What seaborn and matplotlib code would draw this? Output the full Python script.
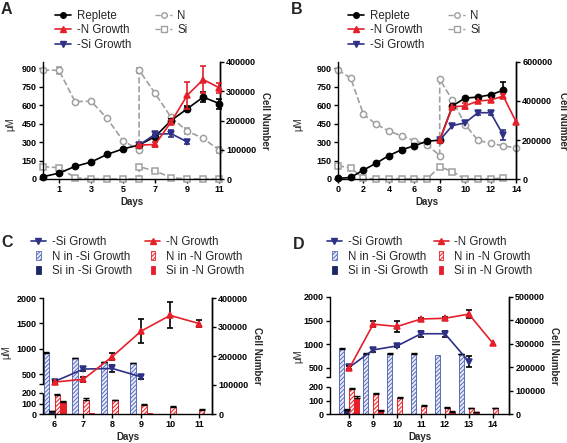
import numpy as np
import matplotlib
matplotlib.use("Agg")
import matplotlib.pyplot as plt
import seaborn as sns
from matplotlib.patches import Rectangle, Patch
from matplotlib.lines import Line2D
from matplotlib.legend_handler import HandlerPatch

sns.set_theme(style="ticks")
plt.rcParams["font.family"] = ["Liberation Sans", "DejaVu Sans"]
plt.rcParams["hatch.linewidth"] = 0.7
plt.rcParams["axes.edgecolor"] = "black"
plt.rcParams["axes.linewidth"] = 1.0
plt.rcParams["xtick.color"] = "black"
plt.rcParams["ytick.color"] = "black"
plt.rcParams["xtick.major.size"] = 3
plt.rcParams["ytick.major.size"] = 3
plt.rcParams["xtick.major.width"] = 1.0
plt.rcParams["ytick.major.width"] = 1.0

RED = "#e5202b"
NAVY = "#2e3185"
GRAY = "#a0a0a0"
HBLUE = "#5a6cb8"
HFACE = "#e8ecf8"
RFACE = "#fff0f0"
DARKNAVY = "#1c2766"

# ---------------- Panel A data ----------------
A_days = [0, 1, 2, 3, 4, 5, 6, 7, 8, 9, 10, 11]
A_replete = [8000, 20000, 43000, 58000, 84000, 103000, 116000, 145000, 200000, 240000, 280000, 258000]
A_replete_err = [0, 0, 0, 0, 0, 0, 0, 5000, 6000, 9000, 18000, 17000]
A_negN_days = [6, 7, 8, 9, 10, 11]
A_negN = [116000, 118000, 195000, 286000, 340000, 312000]
A_negN_err = [0, 8000, 6000, 45000, 45000, 17000]
A_negSi_days = [6, 7, 8, 9]
A_negSi = [116000, 153000, 155000, 127000]
A_negSi_err = [0, 8000, 12000, 7000]
A_N_days = [0, 1, 2, 3, 4, 5, 6, 6, 7, 8, 9, 10, 11]
A_N = [886, 882, 628, 632, 492, 310, 236, 884, 695, 500, 389, 330, 235]
A_N_err = [0, 30, 0, 0, 0, 0, 0, 20, 0, 0, 25, 0, 25]
A_Si_days = [0, 1, 2, 3, 4, 5, 6, 6, 7, 8, 9, 10, 11]
A_Si = [100, 92, 11, 0, 0, 0, 0, 100, 65, 11, 0, 0, 0]

# ---------------- Panel B data ----------------
B_days = [0, 1, 2, 3, 4, 5, 6, 7, 8, 9, 10, 11, 12, 13]
B_replete = [3000, 8000, 46000, 81000, 120000, 150000, 170000, 194000, 199000, 375000, 415000, 420000, 432000, 455000]
B_replete_err = [0, 0, 0, 0, 0, 10000, 8000, 0, 0, 0, 0, 0, 0, 40000]
B_negN_days = [8, 9, 10, 11, 12, 13, 14]
B_negN = [199000, 370000, 375000, 400000, 405000, 425000, 294000]
B_negN_err = [0, 0, 15000, 0, 0, 12000, 0]
B_negSi_days = [8, 9, 10, 11, 12, 13]
B_negSi = [199000, 274000, 288000, 340000, 340000, 225000]
B_negSi_err = [0, 0, 0, 10000, 10000, 25000]
B_N_days = [0, 1, 2, 3, 4, 5, 6, 7, 8, 8, 9, 10, 11, 12, 13, 14]
B_N = [886, 818, 526, 444, 390, 350, 312, 280, 190, 810, 640, 442, 314, 290, 270, 252]
B_Si_days = [0, 1, 2, 3, 4, 5, 6, 7, 8, 9, 10, 11, 12, 13]
B_Si = [108, 90, 5, 0, 0, 0, 0, 0, 100, 60, 0, 0, 0, 8]

# ---------------- Panel C data ----------------
C_days = [6, 7, 8, 9, 10, 11]
C_N_in_negSi = [920, 810, 730, 710, np.nan, np.nan]
C_Si_in_negSi = [25, np.nan, np.nan, np.nan, np.nan, np.nan]
C_N_in_negN = [185, 135, 130, 88, 70, 40]
C_Si_in_negN = [115, 12, np.nan, 5, np.nan, np.nan]
C_N_in_negSi_err = [15, 12, 15, 15, 0, 0]
C_Si_in_negSi_err = [8, 0, 0, 0, 0, 0]
C_N_in_negN_err = [6, 20, 5, 4, 10, 5]
C_Si_in_negN_err = [12, 0, 0, 0, 0, 0]
C_negSi_days = [6, 7, 8, 9]
C_negSi = [112000, 155000, 157000, 128000]
C_negSi_err = [4000, 8000, 12000, 8000]
C_negN_days = [6, 7, 8, 9, 10, 11]
C_negN = [110000, 120000, 198000, 286000, 340000, 312000]
C_negN_err = [4000, 8000, 12000, 40000, 45000, 13000]

# ---------------- Panel D data ----------------
D_days = [8, 9, 10, 11, 12, 13, 14]
D_N_in_negSi = [905, 800, 800, 800, 775, 785, np.nan]
D_Si_in_negSi = [30, np.nan, np.nan, np.nan, np.nan, np.nan, np.nan]
D_N_in_negN = [183, 150, 120, 60, 48, 43, 41]
D_Si_in_negN = [120, 20, np.nan, np.nan, 15, 12, np.nan]
D_N_in_negSi_err = [8, 8, 8, 10, 0, 10, 0]
D_Si_in_negSi_err = [5, 0, 0, 0, 0, 0, 0]
D_N_in_negN_err = [6, 5, 5, 3, 4, 3, 3]
D_Si_in_negN_err = [12, 6, 0, 0, 4, 3, 0]
D_negSi_days = [8, 9, 10, 11, 12, 13]
D_negSi = [200000, 274000, 291000, 343000, 343000, 224000]
D_negSi_err = [8000, 10000, 5000, 12000, 12000, 25000]
D_negN_days = [8, 9, 10, 11, 12, 13, 14]
D_negN = [196000, 384000, 374000, 406000, 409000, 427000, 303000]
D_negN_err = [10000, 12000, 22000, 5000, 5000, 17000, 0]

W, H = 567, 443
fig = plt.figure(figsize=(W / 100, H / 100), dpi=100)


def add_ax(left, top, right, bottom):
    return fig.add_axes([left / W, 1 - bottom / H, (right - left) / W, (bottom - top) / H])


def bold_ticks(ax, size=6.5):
    ax.tick_params(labelsize=size, pad=1.5)
    for lbl in ax.get_xticklabels() + ax.get_yticklabels():
        lbl.set_fontweight("bold")


def line(ax, x, y, color, marker, ls="-", open_marker=False, ms=4.5, err=None, ecolor=None, z=3):
    sns.lineplot(x=x, y=y, ax=ax, color=color, marker=marker, linestyle=ls,
                 markersize=ms, markerfacecolor="white" if open_marker else color,
                 markeredgecolor=color, markeredgewidth=1.1, linewidth=1.2,
                 sort=False, estimator=None, errorbar=None, legend=False,
                 clip_on=False, zorder=z)
    if err is not None:
        xs = [a for a, e in zip(x, err) if e > 0]
        ys = [b for b, e in zip(y, err) if e > 0]
        es = [e for e in err if e > 0]
        if xs:
            ax.errorbar(xs, ys, yerr=es, fmt="none", ecolor=ecolor or color,
                        elinewidth=1.2, capsize=2.5, capthick=1.2, zorder=z - 0.1, clip_on=False)


def bars(ax, days, vals, errs, offset, width, face, edge, hatch=None):
    xs, hs, es = [], [], []
    for d, v, e in zip(days, vals, errs):
        if not np.isnan(v):
            xs.append(d + offset)
            hs.append(v)
            es.append(e)
    ax.bar(xs, hs, width=width, color=face, edgecolor=edge, hatch=hatch, linewidth=0.7, zorder=2)
    ex = [a for a, e in zip(xs, es) if e > 0]
    ey = [b for b, e in zip(hs, es) if e > 0]
    ee = [e for e in es if e > 0]
    if ex:
        ax.errorbar(ex, ey, yerr=[[0] * len(ee), ee], fmt="none", ecolor="black",
                    elinewidth=1.0, capsize=2.2, capthick=1.0, zorder=2.5)


def pw_scale(ax, xp, fp):
    xp = np.asarray(xp, float)
    fp = np.asarray(fp, float)

    def mk(a, b):
        s0 = (b[1] - b[0]) / (a[1] - a[0])
        s1 = (b[-1] - b[-2]) / (a[-1] - a[-2])

        def f(v):
            v = np.asarray(v, float)
            out = np.interp(v, a, b)
            out = np.where(v < a[0], b[0] + (v - a[0]) * s0, out)
            out = np.where(v > a[-1], b[-1] + (v - a[-1]) * s1, out)
            return out
        return f
    ax.set_yscale("function", functions=(mk(xp, fp), mk(fp, xp)))


class NarrowPatch(HandlerPatch):
    def create_artists(self, legend, orig_handle, xdescent, ydescent, width, height, fontsize, trans):
        w = height * 0.5
        h = height * 1.05
        x = -xdescent + (width - w) / 2
        y = -ydescent + (height - h) / 2
        p = Rectangle((x, y), w, h, facecolor=orig_handle.get_facecolor(),
                      edgecolor=orig_handle.get_edgecolor(), hatch=orig_handle.get_hatch(), lw=0.6)
        p.set_transform(trans)
        return [p]


def style_axes(ax, ax2):
    ax.spines["top"].set_visible(False)
    ax2.spines["top"].set_visible(False)
    ax2.spines["left"].set_visible(False)
    ax2.spines["bottom"].set_visible(False)
    ax.set_facecolor("none")
    ax2.set_facecolor("none")


def labels(ax, ax2, xl, yl, xr, yc=0.5):
    ax.set_xlabel("Days", fontsize=7, fontweight="bold")
    ax.xaxis.set_label_coords(0.5, xl)
    ax.set_ylabel("μM", fontsize=7)
    ax.yaxis.set_label_coords(yl, yc)
    ax2.set_ylabel("Cell Number", fontsize=7, fontweight="bold", rotation=270, va="center")
    ax2.yaxis.set_label_coords(xr, 0.5)


def panel_letter(x, y, s):
    fig.text(x / W, 1 - y / H, s, fontsize=11.5, fontweight="bold", ha="left", va="top")


# ---------------- Panel A ----------------
axA = add_ax(43, 62, 220, 179)
axA2 = axA.twinx()
line(axA, A_N_days, A_N, GRAY, "o", ls="--", open_marker=True, err=A_N_err, z=2)
line(axA, A_Si_days, A_Si, GRAY, "s", ls="--", open_marker=True, ms=4.3, z=2)
line(axA2, A_days, A_replete, "black", "o", err=A_replete_err, z=4)
line(axA2, A_negSi_days, A_negSi, NAVY, "v", err=A_negSi_err, z=5)
line(axA2, A_negN_days, A_negN, RED, "^", err=A_negN_err, z=6)
axA.set_xlim(0, 11.05)
axA.set_ylim(0, 950)
axA2.set_ylim(0, 400000)
axA.set_xticks([1, 3, 5, 7, 9, 11])
axA.set_yticks([0, 150, 300, 450, 600, 750, 900])
axA2.set_yticks([0, 100000, 200000, 300000, 400000])
style_axes(axA, axA2)
bold_ticks(axA)
bold_ticks(axA2)
labels(axA, axA2, -0.15, -0.158, 1.255, 0.47)
panel_letter(1, 2, "A")

# ---------------- Panel B ----------------
axB = add_ax(338, 62, 516, 179)
axB2 = axB.twinx()
line(axB, B_N_days, B_N, GRAY, "o", ls="--", open_marker=True, z=2)
line(axB, B_Si_days, B_Si, GRAY, "s", ls="--", open_marker=True, ms=4.3, z=2)
line(axB2, B_days, B_replete, "black", "o", err=B_replete_err, z=4)
line(axB2, B_negSi_days, B_negSi, NAVY, "v", err=B_negSi_err, z=5)
line(axB2, B_negN_days, B_negN, RED, "^", err=B_negN_err, z=6)
axB.set_xlim(0, 14)
axB.set_ylim(0, 950)
axB2.set_ylim(0, 600000)
axB.set_xticks([0, 2, 4, 6, 8, 10, 12, 14])
axB.set_yticks([0, 150, 300, 450, 600, 750, 900])
axB2.set_yticks([0, 200000, 400000, 600000])
style_axes(axB, axB2)
bold_ticks(axB)
bold_ticks(axB2)
labels(axB, axB2, -0.15, -0.197, 1.262, 0.47)
panel_letter(291, 2, "B")

# legends A & B
top_handles = [
    Line2D([], [], color="black", marker="o", ms=4, lw=1.2),
    Line2D([], [], color=RED, marker="^", ms=4, lw=1.2),
    Line2D([], [], color=NAVY, marker="v", ms=4, lw=1.2),
    Line2D([], [], color=GRAY, marker="o", ms=4, lw=1.0, ls="--", mfc="white"),
    Line2D([], [], color=GRAY, marker="s", ms=4, lw=1.0, ls="--", mfc="white"),
]
top_labels = ["Replete", "-N Growth", "-Si Growth", "N", "Si"]
for lx in (55, 348):
    fig.legend(top_handles, top_labels, ncol=2, loc="upper left",
               bbox_to_anchor=(lx / W, 1 - 10 / H), frameon=False, fontsize=8.3,
               handlelength=1.4, handletextpad=0.5, columnspacing=2.1,
               labelspacing=0.2, borderpad=0, borderaxespad=0)

# ---------------- Panel C & D ----------------
LOW_SEG = [0, 200]
HIGH_SEG = [300, 2000]
CD_TICKS = [0, 100, 200, 300, 500, 1000, 1500, 2000]
CD_TICKLABELS = ["0", "100", "200", "", "500", "1000", "1500", "2000"]


def bar_panel(box, days, data, errs, lines_, bw, xlim, ymap, rmax, rticks):
    ax = add_ax(*box)
    pw_scale(ax, [0, 200, 300, 2000], ymap)
    ax2 = ax.twinx()
    specs = [(HFACE, HBLUE, "////////"), (DARKNAVY, DARKNAVY, None),
             (RFACE, RED, "////////"), (RED, RED, None)]
    offs = [-1.5, -0.5, 0.5, 1.5]
    for vals, ee, (fc, ec, ht), o in zip(data, errs, specs, offs):
        bars(ax, days, vals, ee, o * bw, bw, fc, ec, ht)
    for (dx, dy, de, col, mk) in lines_:
        line(ax2, dx, dy, col, mk, err=de, ecolor="black", z=5 if col == RED else 4, ms=4.2)
    ax.set_xlim(*xlim)
    ax.set_ylim(0, 2000)
    ax.set_xticks(days)
    ax.set_yticks(CD_TICKS)
    ax.set_yticklabels(CD_TICKLABELS)
    ax2.set_ylim(0, rmax)
    ax2.set_yticks(rticks)
    style_axes(ax, ax2)
    ax.spines["left"].set_bounds(*HIGH_SEG)
    ax.plot([0, 0], LOW_SEG, transform=ax.get_yaxis_transform(), color="black", lw=1.0,
            clip_on=False, solid_capstyle="butt")
    bold_ticks(ax)
    bold_ticks(ax2)
    return ax, ax2


axC, axC2 = bar_panel((43, 298, 212, 414), C_days,
                      [C_N_in_negSi, C_Si_in_negSi, C_N_in_negN, C_Si_in_negN],
                      [C_N_in_negSi_err, C_Si_in_negSi_err, C_N_in_negN_err, C_Si_in_negN_err],
                      [(C_negSi_days, C_negSi, C_negSi_err, NAVY, "v"),
                       (C_negN_days, C_negN, C_negN_err, RED, "^")],
                      0.19, (5.6, 11.45), [0, 21, 29.7, 116], 400000,
                      [0, 100000, 200000, 300000, 400000])
labels(axC, axC2, -0.155, -0.19, 1.264, 0.53)
panel_letter(1, 235, "C")

axD, axD2 = bar_panel((330, 297, 509, 414), D_days,
                      [D_N_in_negSi, D_Si_in_negSi, D_N_in_negN, D_Si_in_negN],
                      [D_N_in_negSi_err, D_Si_in_negSi_err, D_N_in_negN_err, D_Si_in_negN_err],
                      [(D_negSi_days, D_negSi, D_negSi_err, NAVY, "v"),
                       (D_negN_days, D_negN, D_negN_err, RED, "^")],
                      0.21, (7.19, 14.68), [0, 27, 36.9, 117], 500000,
                      [0, 100000, 200000, 300000, 400000, 500000])
labels(axD, axD2, -0.155, -0.151, 1.251, 0.49)
panel_letter(293, 237, "D")

bot_handles = [
    Line2D([], [], color=NAVY, marker="v", ms=4, lw=1.2),
    Patch(facecolor=HFACE, edgecolor=HBLUE, hatch="////////"),
    Patch(facecolor=DARKNAVY, edgecolor=DARKNAVY),
    Line2D([], [], color=RED, marker="^", ms=4, lw=1.2),
    Patch(facecolor=RFACE, edgecolor=RED, hatch="////////"),
    Patch(facecolor=RED, edgecolor=RED),
]
bot_labels = ["-Si Growth", "N in -Si Growth", "Si in -Si Growth",
              "-N Growth", "N in -N Growth", "Si in -N Growth"]
for lx, cs in ((31, 1.15), (327, 0.5)):
    fig.legend(bot_handles, bot_labels, ncol=2, loc="upper left",
               bbox_to_anchor=(lx / W, 1 - 236 / H), frameon=False, fontsize=8.3,
               handlelength=1.3, handletextpad=0.5, columnspacing=cs,
               labelspacing=0.22, borderpad=0, borderaxespad=0,
               handler_map={Patch: NarrowPatch()})

fig.savefig("out.png", dpi=100)
